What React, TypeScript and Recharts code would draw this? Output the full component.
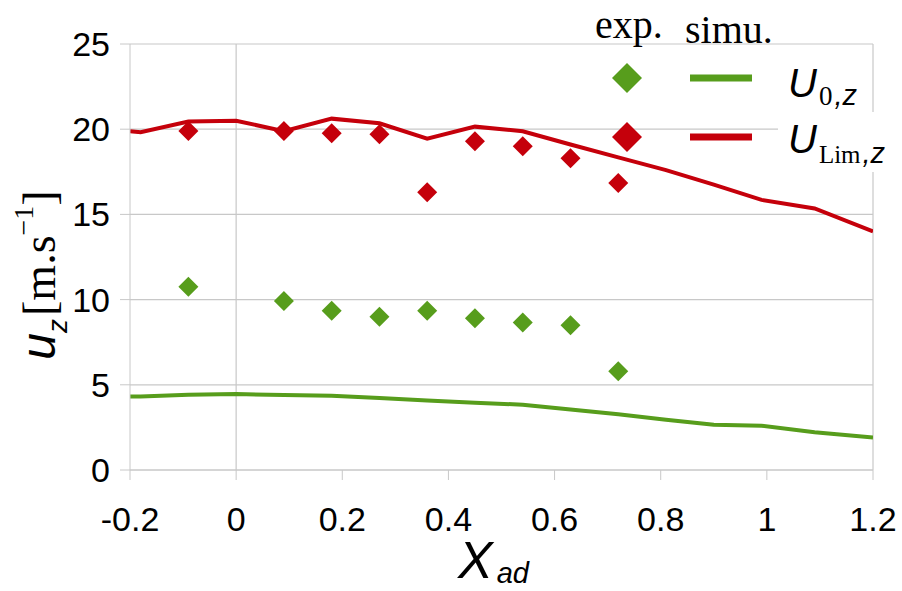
import React from 'react';
import { ComposedChart, Line, Scatter, XAxis, YAxis, CartesianGrid, ReferenceLine, Legend } from 'recharts';

// simulation curves (sampled at the computed stations)
const simX = [-0.2, -0.18, -0.09, 0, 0.09, 0.18, 0.27, 0.36, 0.45, 0.54, 0.63, 0.72, 0.81, 0.9, 0.99, 1.09, 1.2];
const simU0 = [4.31, 4.32, 4.42, 4.46, 4.4, 4.36, 4.22, 4.08, 3.95, 3.83, 3.55, 3.27, 2.95, 2.65, 2.6, 2.22, 1.9];
const simULim = [19.88, 19.82, 20.45, 20.5, 19.88, 20.62, 20.35, 19.45, 20.15, 19.88, 19.1, 18.35, 17.6, 16.75, 15.85, 15.35, 14.0];

// experimental points
const expX = [-0.09, 0.09, 0.18, 0.27, 0.36, 0.45, 0.54, 0.63, 0.72];
const expU0 = [10.75, 9.92, 9.35, 9.0, 9.35, 8.9, 8.65, 8.5, 5.8];
const expULim = [19.9, 19.9, 19.76, 19.7, 16.3, 19.3, 19.0, 18.3, 16.85];

const xTicks = [-0.2, 0, 0.2, 0.4, 0.6, 0.8, 1, 1.2];
const yTicks = [0, 5, 10, 15, 20, 25];

const GREEN = '#579d1c';
const RED = '#c5000b';
const GRID = '#c8c8c8';
const SANS = 'Liberation Sans, Arial, sans-serif';
const SERIF = 'Liberation Serif, Times New Roman, serif';

const simData = simX.map((x, i) => ({ x, u0: simU0[i], ulim: simULim[i] }));
const expU0Data = expX.map((x, i) => ({ x, y: expU0[i] }));
const expULimData = expX.map((x, i) => ({ x, y: expULim[i] }));

const diamond = (r: number, color: string) => (props: any) => {
  const { cx, cy } = props;
  if (cx == null || cy == null) return <g />;
  return <polygon points={`${cx},${cy - r} ${cx + r},${cy} ${cx},${cy + r} ${cx - r},${cy}`} fill={color} />;
};

const LegendBox = () => (
  <svg width={322} height={180} style={{ display: 'block', overflow: 'visible' }}>
    <rect x={198} y={112} width={124} height={60} fill="#fff" />
    <text x={15} y={38} fontFamily={SERIF} fontSize={40} fill="#000">exp.</text>
    <text x={105} y={43} fontFamily={SERIF} fontSize={40} fill="#000">simu.</text>

    <polygon points="47,63 62,78 47,93 32,78" fill={GREEN} />
    <line x1={110} y1={78} x2={172} y2={78} stroke={GREEN} strokeWidth={7} />
    <text x={208} y={97} fill="#000">
      <tspan fontFamily={SANS} fontStyle="italic" fontSize={40}>U</tspan>
      <tspan fontFamily={SERIF} fontSize={27} dy={8} dx={2}>0</tspan>
      <tspan fontFamily={SANS} fontStyle="italic" fontSize={29} dx={2}>,z</tspan>
    </text>

    <polygon points="47,122 62,137 47,152 32,137" fill={RED} />
    <line x1={110} y1={137} x2={172} y2={137} stroke={RED} strokeWidth={7} />
    <text x={208} y={153} fill="#000">
      <tspan fontFamily={SANS} fontStyle="italic" fontSize={40}>U</tspan>
      <tspan fontFamily={SERIF} fontSize={25} dy={10} dx={2}>Lim</tspan>
      <tspan fontFamily={SANS} fontStyle="italic" fontSize={29} dx={2}>,z</tspan>
    </text>
  </svg>
);

const XTitle = () => (
  <text x={458} y={578} fill="#000" fontFamily={SANS} fontStyle="italic">
    <tspan fontSize={52}>X</tspan>
    <tspan fontSize={29} dy={5} dx={4}>ad</tspan>
  </text>
);

const YTitle = () => (
  <text transform="rotate(-90, 55, 275)" x={55} y={275} textAnchor="middle" fill="#000">
    <tspan fontFamily={SANS} fontStyle="italic" fontSize={48}>u</tspan>
    <tspan fontFamily={SANS} fontStyle="italic" fontSize={28} dy={12}>z</tspan>
    <tspan fontFamily={SERIF} fontSize={46} dy={-12} dx={3}>[m.s</tspan>
    <tspan fontFamily={SERIF} fontSize={28} dy={-22}>−1</tspan>
    <tspan fontFamily={SERIF} fontSize={46} dy={22}>]</tspan>
  </text>
);

export default function App() {
  return (
    <div style={{ position: 'absolute', left: 0, top: 0, background: '#fff' }}>
      <ComposedChart width={902} height={591} margin={{ top: 44, right: 29, bottom: 0, left: 10 }}>
        <CartesianGrid vertical={false} stroke={GRID} strokeWidth={1.2} />
        <XAxis
          dataKey="x"
          type="number"
          domain={[-0.2, 1.2]}
          ticks={xTicks}
          allowDataOverflow
          height={121}
          stroke={GRID}
          tickSize={10}
          tickMargin={27}
          tick={{ fill: '#000', fontSize: 34, fontFamily: SANS }}
          label={{ content: () => <XTitle /> }}
        />
        <YAxis
          type="number"
          domain={[0, 25]}
          ticks={yTicks}
          width={120}
          stroke={GRID}
          tickSize={10}
          tickMargin={10}
          tick={{ fill: '#000', fontSize: 34, fontFamily: SANS }}
          label={{ content: () => <YTitle /> }}
        />
        <ReferenceLine x={0} stroke={GRID} strokeWidth={1.2} />
        <ReferenceLine x={1.2} stroke={GRID} strokeWidth={1.2} />
        <Line data={simData} dataKey="u0" type="linear" stroke={GREEN} strokeWidth={4} dot={false} isAnimationActive={false} />
        <Line data={simData} dataKey="ulim" type="linear" stroke={RED} strokeWidth={4} dot={false} isAnimationActive={false} />
        <Scatter data={expU0Data} dataKey="y" shape={diamond(10, GREEN)} isAnimationActive={false} />
        <Scatter data={expULimData} dataKey="y" shape={diamond(10, RED)} isAnimationActive={false} />
        <Legend
          layout="horizontal"
          verticalAlign="middle"
          align="center"
          content={() => <LegendBox />}
          wrapperStyle={{ position: 'absolute', left: 580, top: 0, width: 322, height: 180 }}
        />
      </ComposedChart>
    </div>
  );
}
